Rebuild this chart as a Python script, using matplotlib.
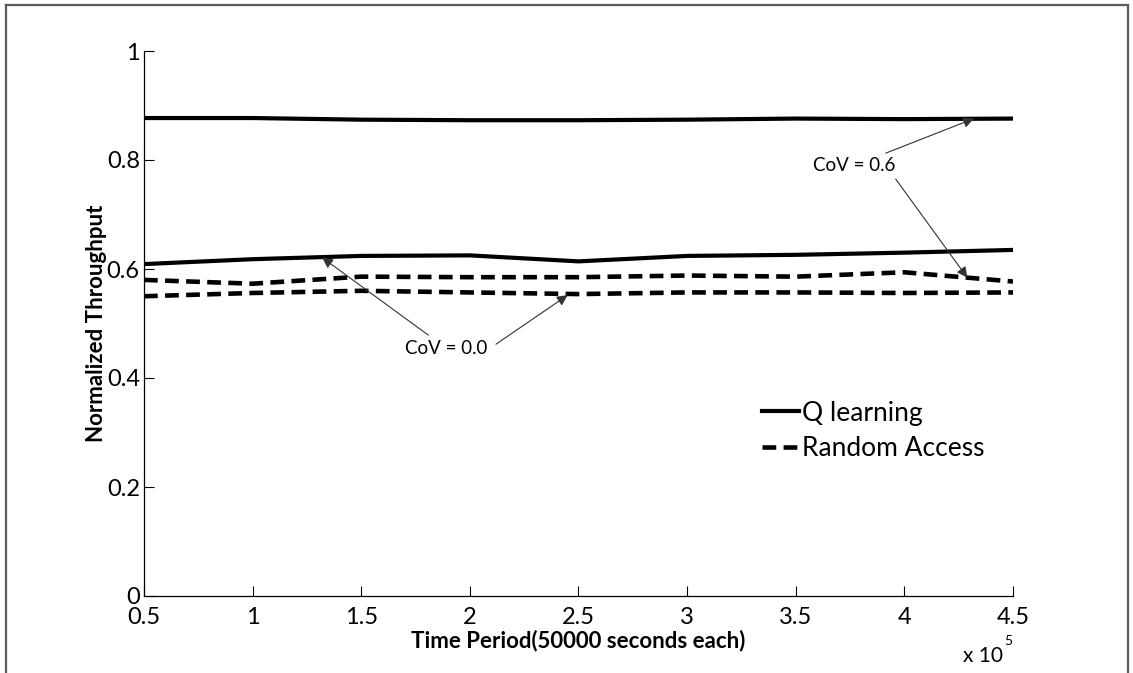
import numpy as np
import matplotlib
matplotlib.use("Agg")
import matplotlib.pyplot as plt
from matplotlib.lines import Line2D

plt.rcParams['font.family'] = ['Lato', 'DejaVu Sans']

# time periods (x 10^5 s)
periods = [0.5, 1.0, 1.5, 2.0, 2.5, 3.0, 3.5, 4.0, 4.5]

# Q learning throughput
q_cov06 = [0.877, 0.877, 0.874, 0.873, 0.873, 0.874, 0.876, 0.875, 0.876]
q_cov00 = [0.609, 0.618, 0.624, 0.625, 0.614, 0.624, 0.626, 0.630, 0.635]

# random access throughput
ra_cov06 = [0.580, 0.573, 0.586, 0.585, 0.585, 0.588, 0.586, 0.594, 0.577]
ra_cov00 = [0.550, 0.556, 0.560, 0.557, 0.554, 0.557, 0.557, 0.556, 0.557]

W, H = 1133, 673
fig = plt.figure(figsize=(W / 100, H / 100), dpi=100)
ax = fig.add_axes([144 / W, 77 / H, 869 / W, 545 / H])

dash = (0, (3, 1.6))
ax.plot(periods, q_cov06, color='black', lw=3.0, label='Q learning')
ax.plot(periods, q_cov00, color='black', lw=3.0)
ax.plot(periods, ra_cov06, color='black', lw=3.3, linestyle=dash, label='Random Access')
ax.plot(periods, ra_cov00, color='black', lw=3.3, linestyle=dash)

ax.set_xlim(0.5, 4.5)
ax.set_ylim(0, 1)
ax.set_xticks(periods)
ax.set_xticklabels(['0.5', '1', '1.5', '2', '2.5', '3', '3.5', '4', '4.5'])
ax.set_yticks([0, 0.2, 0.4, 0.6, 0.8, 1])
ax.set_yticklabels(['0', '0.2', '0.4', '0.6', '0.8', '1'])
ax.tick_params(direction='in', length=7, width=0.8, labelsize=17)
ax.tick_params(axis='x', pad=8)
ax.tick_params(axis='y', pad=3)

for s in ['top', 'right']:
    ax.spines[s].set_visible(False)
for s in ['left', 'bottom']:
    ax.spines[s].set_linewidth(0.9)

ax.set_xlabel('Time Period(50000 seconds each)', fontsize=16, fontweight='bold', labelpad=1)
ax.set_ylabel('Normalized Throughput', fontsize=16, fontweight='bold', labelpad=-0.5)

# annotations
arrow = dict(arrowstyle='-|>', color='#333333', lw=0.8, mutation_scale=16, shrinkA=2, shrinkB=0)
ax.annotate('CoV = 0.6', xy=(4.32, 0.876), xytext=(3.77, 0.79), fontsize=13.5,
            ha='center', va='center', arrowprops=arrow)
ax.annotate('', xy=(4.29, 0.584), xytext=(3.96, 0.765), arrowprops=dict(arrow, shrinkA=0))
ax.annotate('CoV = 0.0', xy=(1.32, 0.621), xytext=(1.89, 0.455), fontsize=13.5,
            ha='center', va='center', arrowprops=arrow)
ax.annotate('', xy=(2.45, 0.552), xytext=(2.12, 0.462), arrowprops=dict(arrow, shrinkA=0))

ax.legend(loc='upper left', bbox_to_anchor=(0.699, 0.378), frameon=False, fontsize=19,
          handlelength=1.4, handletextpad=0.1, labelspacing=0.4, borderaxespad=0)

# exponent label
fig.text(963 / W, 1 - 656 / H, 'x 10', fontsize=15, ha='left', va='center')
fig.text(1004 / W, 1 - 641 / H, '5', fontsize=10, ha='left', va='center')

# outer frame
frame = dict(color='#5c5c5c', lw=1.6, transform=fig.transFigure)
fig.add_artist(Line2D([6 / W, 6 / W], [0, 1 - 5 / H], **frame))
fig.add_artist(Line2D([6 / W, 1128 / W], [1 - 5 / H, 1 - 5 / H], **frame))
fig.add_artist(Line2D([1128 / W, 1128 / W], [0, 1 - 5 / H], **frame))

fig.savefig('out.png', dpi=100)
